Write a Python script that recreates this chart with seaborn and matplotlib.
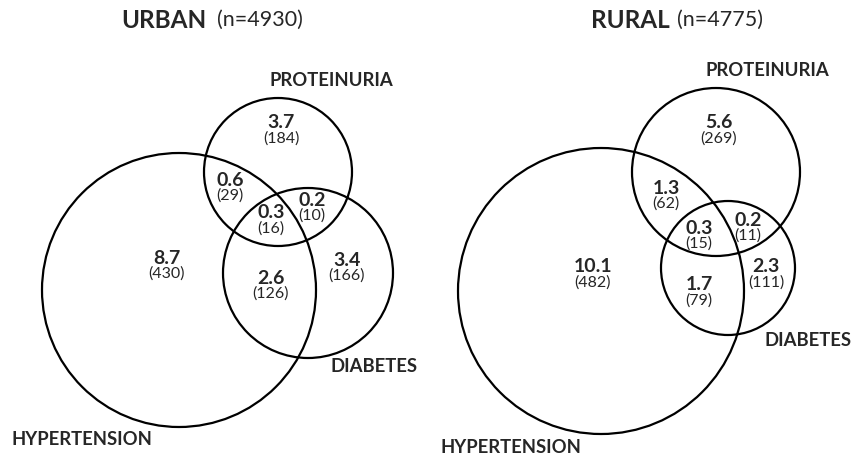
import matplotlib
matplotlib.use('Agg')
import matplotlib.pyplot as plt
from matplotlib.patches import Circle
import seaborn as sns

# Data: % and (n) in each Venn region
regions = ['P only', 'H&P', 'H&P&D', 'P&D', 'H only', 'H&D', 'D only']
urban_pct = [3.7, 0.6, 0.3, 0.2, 8.7, 2.6, 3.4]
urban_n = [184, 29, 16, 10, 430, 126, 166]
rural_pct = [5.6, 1.3, 0.3, 0.2, 10.1, 1.7, 2.3]
rural_n = [269, 62, 15, 11, 482, 79, 111]
urban_total = 4930
rural_total = 4775
set_names = ['HYPERTENSION', 'PROTEINURIA', 'DIABETES']

# Layout (pixel coordinates, y downwards)
urban_circles = [(179, 290, 137), (278, 172, 74), (308, 273, 85)]
rural_circles = [(601, 291, 143), (716, 172, 84), (728, 268, 67)]
urban_text_xy = [(281, 123), (230, 180), (271, 213), (312, 200), (167, 258), (271, 278), (347, 260)]
rural_text_xy = [(719, 123), (666, 188), (699, 228), (748, 220), (593, 267), (699, 285), (766, 267)]
urban_name_xy = [(82, 440), (331, 80), (374, 367)]
rural_name_xy = [(511, 448), (767, 70), (808, 341)]

sns.set_style('white')
plt.rcParams['font.family'] = ['Lato', 'DejaVu Sans']

fig = plt.figure(figsize=(8.53, 4.62), dpi=100)
ax = fig.add_axes([0, 0, 1, 1])
ax.set_xlim(0, 853)
ax.set_ylim(462, 0)
ax.set_aspect('equal')
ax.axis('off')


def draw_venn(circles, pct, counts, text_xy, name_xy):
    for cx, cy, r in circles:
        ax.add_patch(Circle((cx, cy), r, fill=False, edgecolor='black', lw=1.6))
    for (x, y), p, c in zip(text_xy, pct, counts):
        ax.text(x, y, f'{p:.1f}', ha='center', va='center', fontsize=14, fontweight='bold')
        ax.text(x, y + 16, f'({c})', ha='center', va='center', fontsize=11.5)
    for (x, y), name in zip(name_xy, set_names):
        ax.text(x, y, name, ha='center', va='center', fontsize=13.3, fontweight='bold')


draw_venn(urban_circles, urban_pct, urban_n, urban_text_xy, urban_name_xy)
draw_venn(rural_circles, rural_pct, rural_n, rural_text_xy, rural_name_xy)

# Titles
ax.text(207, 20, 'URBAN', ha='right', va='center', fontsize=17.5, fontweight='bold')
ax.text(217, 20, f'(n={urban_total})', ha='left', va='center', fontsize=15.5)
ax.text(670, 20, 'RURAL', ha='right', va='center', fontsize=17.5, fontweight='bold')
ax.text(677, 20, f'(n={rural_total})', ha='left', va='center', fontsize=15.5)

fig.savefig('out.png', dpi=100, facecolor='white')
